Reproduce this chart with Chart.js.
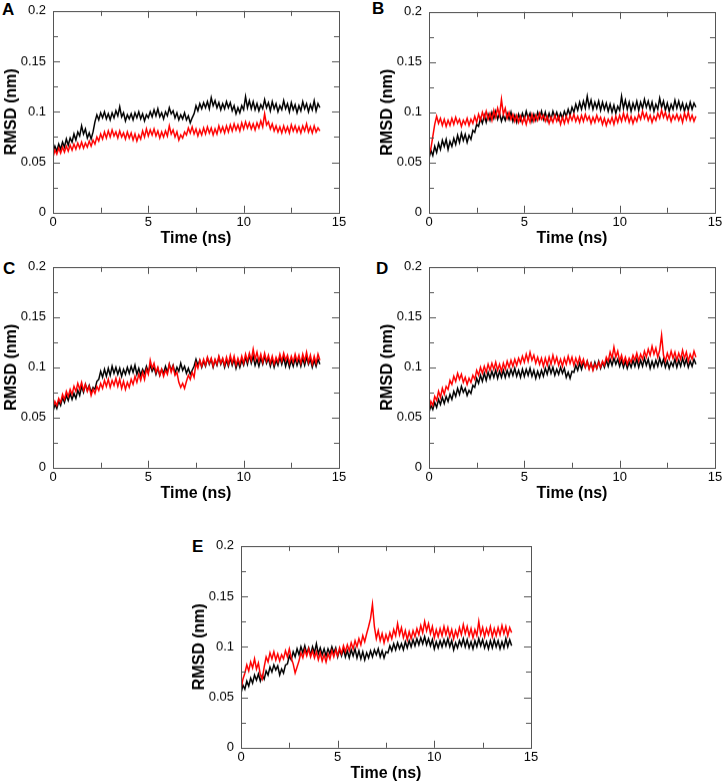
<!DOCTYPE html>
<html>
<head>
<meta charset="utf-8">
<script src="https://cdn.jsdelivr.net/npm/chart.js@4.4.1/dist/chart.umd.min.js"></script>
<style>
  html, body { margin: 0; padding: 0; background: #fff; overflow: hidden; }
  body { width: 724px; height: 782px; position: relative; }
  .panel { position: absolute; }
  .letter { position: absolute; font: bold 17px "Liberation Sans", Arial, sans-serif; line-height: 17px; color: #000; }
</style>
</head>
<body>
<div class="letter" style="left:2px;top:1px">A</div>
<div class="letter" style="left:372px;top:0px">B</div>
<div class="letter" style="left:3px;top:260px">C</div>
<div class="letter" style="left:376px;top:260px">D</div>
<div class="letter" style="left:192px;top:538px">E</div>
<div class="panel" id="boxA"><canvas id="chartA"></canvas></div>
<div class="panel" id="boxB"><canvas id="chartB"></canvas></div>
<div class="panel" id="boxC"><canvas id="chartC"></canvas></div>
<div class="panel" id="boxD"><canvas id="chartD"></canvas></div>
<div class="panel" id="boxE"><canvas id="chartE"></canvas></div>
<script>
// time axis (ns), one sample every 0.1 ns
const timeNs = [
  0,0.1,0.2,0.3,0.4,0.5,0.6,0.7,0.8,0.9,
  1,1.1,1.2,1.3,1.4,1.5,1.6,1.7,1.8,1.9,
  2,2.1,2.2,2.3,2.4,2.5,2.6,2.7,2.8,2.9,
  3,3.1,3.2,3.3,3.4,3.5,3.6,3.7,3.8,3.9,
  4,4.1,4.2,4.3,4.4,4.5,4.6,4.7,4.8,4.9,
  5,5.1,5.2,5.3,5.4,5.5,5.6,5.7,5.8,5.9,
  6,6.1,6.2,6.3,6.4,6.5,6.6,6.7,6.8,6.9,
  7,7.1,7.2,7.3,7.4,7.5,7.6,7.7,7.8,7.9,
  8,8.1,8.2,8.3,8.4,8.5,8.6,8.7,8.8,8.9,
  9,9.1,9.2,9.3,9.4,9.5,9.6,9.7,9.8,9.9,
  10,10.1,10.2,10.3,10.4,10.5,10.6,10.7,10.8,10.9,
  11,11.1,11.2,11.3,11.4,11.5,11.6,11.7,11.8,11.9,
  12,12.1,12.2,12.3,12.4,12.5,12.6,12.7,12.8,12.9,
  13,13.1,13.2,13.3,13.4,13.5,13.6,13.7,13.8,13.9,
  14
];

// RMSD (nm), black and red traces of each panel
const rmsdA_black = [
  0.060,0.066,0.061,0.068,0.063,0.070,0.065,0.073,0.067,0.074,
  0.070,0.078,0.072,0.080,0.076,0.086,0.078,0.083,0.074,0.079,
  0.073,0.080,0.090,0.097,0.092,0.099,0.094,0.100,0.093,0.098,
  0.092,0.099,0.094,0.101,0.096,0.105,0.095,0.099,0.091,0.097,
  0.093,0.098,0.092,0.099,0.094,0.100,0.093,0.098,0.091,0.097,
  0.094,0.100,0.095,0.102,0.096,0.103,0.095,0.099,0.093,0.100,
  0.096,0.104,0.098,0.101,0.094,0.099,0.092,0.097,0.093,0.099,
  0.092,0.096,0.089,0.094,0.098,0.106,0.101,0.108,0.103,0.109,
  0.104,0.110,0.103,0.114,0.106,0.111,0.104,0.109,0.102,0.108,
  0.103,0.110,0.104,0.109,0.101,0.106,0.098,0.104,0.099,0.106,
  0.102,0.115,0.104,0.111,0.103,0.110,0.102,0.108,0.101,0.107,
  0.103,0.112,0.104,0.109,0.101,0.110,0.103,0.108,0.100,0.106,
  0.102,0.111,0.103,0.108,0.100,0.109,0.102,0.107,0.099,0.106,
  0.101,0.110,0.103,0.108,0.100,0.107,0.102,0.111,0.101,0.108,
  0.104
];
const rmsdA_red = [
  0.055,0.062,0.058,0.064,0.059,0.065,0.060,0.066,0.061,0.067,
  0.062,0.068,0.063,0.069,0.064,0.070,0.064,0.069,0.065,0.071,
  0.066,0.072,0.068,0.075,0.071,0.078,0.073,0.080,0.074,0.081,
  0.075,0.082,0.076,0.080,0.074,0.081,0.075,0.079,0.073,0.080,
  0.074,0.079,0.072,0.078,0.071,0.077,0.073,0.081,0.075,0.083,
  0.076,0.082,0.077,0.083,0.076,0.081,0.074,0.080,0.075,0.081,
  0.076,0.086,0.078,0.082,0.075,0.080,0.072,0.077,0.074,0.080,
  0.077,0.084,0.079,0.085,0.078,0.083,0.076,0.082,0.077,0.084,
  0.078,0.085,0.079,0.084,0.077,0.083,0.078,0.086,0.080,0.085,
  0.079,0.086,0.080,0.087,0.081,0.088,0.082,0.087,0.081,0.089,
  0.083,0.090,0.084,0.089,0.083,0.088,0.082,0.089,0.084,0.091,
  0.085,0.098,0.087,0.090,0.083,0.088,0.081,0.086,0.080,0.085,
  0.079,0.086,0.080,0.085,0.079,0.087,0.081,0.086,0.080,0.085,
  0.079,0.086,0.081,0.088,0.080,0.085,0.079,0.086,0.080,0.084,
  0.081
];
const rmsdB_black = [
  0.054,0.062,0.057,0.066,0.060,0.069,0.063,0.072,0.066,0.073,
  0.063,0.071,0.066,0.074,0.068,0.077,0.070,0.079,0.072,0.078,
  0.070,0.077,0.073,0.082,0.080,0.088,0.086,0.094,0.089,0.097,
  0.090,0.098,0.092,0.100,0.094,0.101,0.093,0.099,0.091,0.097,
  0.092,0.099,0.093,0.100,0.091,0.097,0.090,0.098,0.092,0.099,
  0.093,0.101,0.094,0.099,0.091,0.098,0.092,0.100,0.094,0.101,
  0.093,0.100,0.092,0.099,0.093,0.101,0.095,0.100,0.093,0.099,
  0.094,0.101,0.096,0.103,0.097,0.105,0.100,0.108,0.102,0.110,
  0.103,0.111,0.104,0.116,0.105,0.112,0.103,0.110,0.104,0.111,
  0.102,0.110,0.103,0.109,0.101,0.108,0.100,0.107,0.099,0.106,
  0.102,0.116,0.104,0.112,0.103,0.110,0.101,0.109,0.103,0.111,
  0.102,0.110,0.104,0.113,0.105,0.111,0.103,0.110,0.101,0.108,
  0.103,0.114,0.105,0.111,0.102,0.109,0.101,0.108,0.103,0.112,
  0.104,0.111,0.103,0.109,0.101,0.108,0.102,0.110,0.103,0.109,
  0.105
];
const rmsdB_red = [
  0.058,0.064,0.076,0.088,0.096,0.089,0.094,0.087,0.093,0.086,
  0.092,0.087,0.094,0.088,0.095,0.089,0.093,0.086,0.092,0.088,
  0.094,0.087,0.093,0.089,0.096,0.090,0.098,0.092,0.100,0.094,
  0.101,0.093,0.099,0.092,0.102,0.095,0.104,0.097,0.113,0.098,
  0.104,0.094,0.100,0.093,0.098,0.091,0.097,0.090,0.096,0.089,
  0.095,0.088,0.096,0.090,0.098,0.091,0.097,0.092,0.099,0.093,
  0.097,0.091,0.096,0.089,0.095,0.090,0.097,0.091,0.096,0.088,
  0.095,0.089,0.096,0.090,0.097,0.092,0.098,0.091,0.096,0.090,
  0.097,0.091,0.098,0.092,0.096,0.089,0.095,0.090,0.097,0.091,
  0.095,0.088,0.094,0.087,0.093,0.089,0.095,0.088,0.096,0.090,
  0.097,0.091,0.099,0.092,0.098,0.090,0.096,0.089,0.095,0.091,
  0.098,0.093,0.101,0.094,0.099,0.092,0.097,0.090,0.096,0.092,
  0.099,0.094,0.102,0.095,0.100,0.093,0.098,0.091,0.097,0.093,
  0.098,0.092,0.097,0.090,0.099,0.093,0.100,0.092,0.097,0.091,
  0.096
];
const rmsdC_black = [
  0.056,0.063,0.059,0.066,0.062,0.070,0.065,0.072,0.067,0.074,
  0.068,0.074,0.069,0.077,0.072,0.081,0.075,0.083,0.077,0.082,
  0.075,0.080,0.078,0.086,0.088,0.096,0.090,0.098,0.091,0.099,
  0.092,0.101,0.094,0.100,0.093,0.099,0.091,0.098,0.093,0.100,
  0.094,0.101,0.095,0.102,0.093,0.099,0.092,0.098,0.094,0.101,
  0.095,0.102,0.096,0.100,0.093,0.099,0.092,0.098,0.094,0.101,
  0.095,0.103,0.097,0.102,0.094,0.100,0.096,0.104,0.097,0.101,
  0.094,0.099,0.093,0.097,0.101,0.108,0.102,0.107,0.100,0.106,
  0.101,0.109,0.103,0.108,0.100,0.107,0.102,0.110,0.103,0.108,
  0.100,0.107,0.101,0.109,0.102,0.108,0.099,0.106,0.100,0.107,
  0.102,0.110,0.103,0.112,0.104,0.111,0.102,0.108,0.101,0.109,
  0.103,0.111,0.104,0.109,0.101,0.108,0.100,0.107,0.102,0.110,
  0.103,0.110,0.101,0.108,0.100,0.107,0.101,0.109,0.102,0.108,
  0.101,0.109,0.102,0.110,0.103,0.108,0.100,0.107,0.101,0.108,
  0.103
];
const rmsdC_red = [
  0.060,0.066,0.062,0.069,0.065,0.073,0.068,0.076,0.071,0.078,
  0.073,0.081,0.076,0.084,0.078,0.085,0.077,0.083,0.076,0.081,
  0.072,0.078,0.074,0.081,0.077,0.084,0.079,0.087,0.081,0.088,
  0.080,0.087,0.082,0.089,0.081,0.088,0.079,0.086,0.078,0.085,
  0.080,0.088,0.083,0.091,0.085,0.093,0.087,0.095,0.088,0.098,
  0.093,0.107,0.099,0.104,0.095,0.100,0.092,0.098,0.091,0.097,
  0.093,0.103,0.095,0.101,0.092,0.095,0.085,0.080,0.084,0.079,
  0.086,0.092,0.088,0.095,0.090,0.104,0.099,0.107,0.101,0.108,
  0.102,0.110,0.104,0.109,0.101,0.108,0.103,0.111,0.104,0.109,
  0.102,0.110,0.103,0.112,0.104,0.111,0.102,0.109,0.103,0.111,
  0.104,0.113,0.106,0.114,0.107,0.118,0.108,0.115,0.106,0.113,
  0.105,0.114,0.106,0.112,0.104,0.111,0.103,0.110,0.105,0.113,
  0.106,0.114,0.107,0.112,0.104,0.111,0.105,0.113,0.106,0.112,
  0.104,0.113,0.106,0.115,0.105,0.112,0.103,0.111,0.104,0.113,
  0.107
];
const rmsdD_black = [
  0.055,0.062,0.058,0.065,0.060,0.068,0.063,0.070,0.064,0.071,
  0.066,0.073,0.068,0.076,0.071,0.079,0.073,0.081,0.075,0.079,
  0.072,0.077,0.074,0.082,0.080,0.089,0.084,0.092,0.086,0.094,
  0.087,0.095,0.089,0.096,0.090,0.097,0.089,0.096,0.090,0.097,
  0.090,0.097,0.091,0.098,0.092,0.099,0.091,0.097,0.090,0.098,
  0.091,0.098,0.092,0.099,0.091,0.097,0.089,0.096,0.090,0.097,
  0.091,0.099,0.093,0.101,0.094,0.100,0.092,0.098,0.093,0.100,
  0.094,0.099,0.090,0.095,0.089,0.096,0.095,0.102,0.097,0.104,
  0.098,0.105,0.100,0.106,0.099,0.104,0.098,0.105,0.099,0.106,
  0.099,0.105,0.100,0.107,0.101,0.108,0.102,0.109,0.103,0.108,
  0.101,0.107,0.100,0.106,0.099,0.105,0.100,0.107,0.101,0.108,
  0.100,0.107,0.101,0.109,0.102,0.108,0.099,0.106,0.100,0.107,
  0.101,0.109,0.102,0.108,0.100,0.106,0.099,0.105,0.101,0.108,
  0.100,0.107,0.101,0.109,0.102,0.108,0.100,0.106,0.101,0.108,
  0.103
];
const rmsdD_red = [
  0.058,0.066,0.062,0.071,0.067,0.076,0.070,0.079,0.073,0.081,
  0.078,0.087,0.083,0.091,0.086,0.094,0.088,0.093,0.085,0.090,
  0.083,0.089,0.085,0.092,0.088,0.097,0.092,0.100,0.094,0.101,
  0.095,0.103,0.097,0.104,0.098,0.105,0.097,0.103,0.096,0.104,
  0.098,0.106,0.100,0.107,0.101,0.108,0.102,0.109,0.104,0.111,
  0.105,0.113,0.106,0.115,0.107,0.112,0.104,0.110,0.103,0.109,
  0.101,0.109,0.102,0.110,0.103,0.112,0.104,0.110,0.102,0.108,
  0.101,0.109,0.103,0.111,0.104,0.110,0.102,0.109,0.103,0.110,
  0.103,0.108,0.100,0.106,0.098,0.104,0.097,0.103,0.099,0.105,
  0.100,0.106,0.102,0.110,0.106,0.115,0.109,0.120,0.110,0.116,
  0.106,0.112,0.104,0.110,0.103,0.109,0.105,0.112,0.107,0.114,
  0.106,0.113,0.108,0.116,0.110,0.118,0.112,0.121,0.113,0.119,
  0.110,0.117,0.132,0.112,0.106,0.114,0.108,0.116,0.109,0.115,
  0.107,0.114,0.108,0.117,0.109,0.115,0.106,0.113,0.108,0.116,
  0.110
];
const rmsdE_black = [
  0.054,0.062,0.058,0.066,0.061,0.069,0.064,0.072,0.067,0.073,
  0.066,0.072,0.068,0.076,0.072,0.080,0.075,0.082,0.077,0.081,
  0.072,0.078,0.074,0.082,0.083,0.091,0.087,0.095,0.090,0.098,
  0.092,0.100,0.094,0.101,0.093,0.099,0.092,0.100,0.094,0.103,
  0.093,0.099,0.092,0.098,0.091,0.098,0.093,0.100,0.094,0.099,
  0.090,0.097,0.091,0.098,0.090,0.096,0.089,0.097,0.091,0.098,
  0.089,0.096,0.088,0.095,0.087,0.094,0.089,0.096,0.090,0.097,
  0.092,0.098,0.090,0.096,0.089,0.095,0.094,0.101,0.096,0.103,
  0.097,0.104,0.098,0.103,0.097,0.105,0.099,0.106,0.100,0.107,
  0.101,0.108,0.102,0.109,0.103,0.110,0.102,0.108,0.101,0.107,
  0.098,0.105,0.099,0.106,0.100,0.107,0.101,0.108,0.100,0.106,
  0.097,0.104,0.099,0.106,0.101,0.108,0.100,0.107,0.099,0.105,
  0.098,0.106,0.100,0.108,0.101,0.107,0.099,0.105,0.098,0.106,
  0.099,0.107,0.100,0.106,0.098,0.105,0.099,0.108,0.100,0.107,
  0.101
];
const rmsdE_red = [
  0.058,0.068,0.074,0.082,0.076,0.085,0.079,0.088,0.078,0.084,
  0.072,0.068,0.080,0.090,0.085,0.094,0.088,0.095,0.087,0.093,
  0.086,0.092,0.088,0.096,0.090,0.098,0.089,0.083,0.074,0.080,
  0.086,0.094,0.089,0.097,0.091,0.098,0.090,0.096,0.089,0.095,
  0.087,0.094,0.086,0.092,0.085,0.093,0.088,0.096,0.090,0.097,
  0.091,0.099,0.093,0.101,0.095,0.102,0.096,0.104,0.098,0.106,
  0.100,0.108,0.102,0.111,0.105,0.113,0.120,0.128,0.142,0.120,
  0.108,0.116,0.106,0.113,0.104,0.112,0.106,0.114,0.108,0.117,
  0.111,0.123,0.112,0.119,0.109,0.116,0.107,0.115,0.108,0.116,
  0.110,0.118,0.112,0.121,0.114,0.125,0.116,0.123,0.113,0.120,
  0.109,0.117,0.110,0.118,0.111,0.120,0.112,0.119,0.110,0.117,
  0.108,0.116,0.110,0.119,0.112,0.122,0.113,0.120,0.111,0.118,
  0.109,0.117,0.111,0.125,0.112,0.119,0.110,0.118,0.112,0.120,
  0.110,0.118,0.111,0.119,0.112,0.121,0.113,0.120,0.111,0.119,
  0.114
];

// axis ticks
const xTickValues = [0, 5, 10, 15];
const xTickText = ['0', '5', '10', '15'];
const xMinorValues = [2.5, 7.5, 12.5];
const yTickValues = [0, 0.05, 0.1, 0.15, 0.2];
const yTickText = ['0', '0.05', '0.1', '0.15', '0.2'];
const yMinorValues = [0.025, 0.075, 0.125, 0.175];

const FONT = '"Liberation Sans", Arial, sans-serif';
const Y_AXIS_W = 53, X_AXIS_H = 39, PAD_TOP = 10, PAD_RIGHT = 8;

// frame + inward ticks on all four sides, like xmgrace output
const framePlugin = {
  id: 'frame',
  afterDatasetsDraw(chart) {
    const { ctx, chartArea: a, scales: { x, y } } = chart;
    ctx.save();
    ctx.strokeStyle = '#555';
    ctx.lineWidth = 1;
    ctx.beginPath();
    const tick = (vals, len) => {
      vals.forEach(v => {
        const px = Math.round(x.getPixelForValue(v)) + 0.5;
        if (px > a.left + 1 && px < a.right - 1) {
          ctx.moveTo(px, a.bottom); ctx.lineTo(px, a.bottom - len);
          ctx.moveTo(px, a.top); ctx.lineTo(px, a.top + len);
        }
      });
    };
    const ytick = (vals, len) => {
      vals.forEach(v => {
        const py = Math.round(y.getPixelForValue(v)) + 0.5;
        if (py > a.top + 1 && py < a.bottom - 1) {
          ctx.moveTo(a.left, py); ctx.lineTo(a.left + len, py);
          ctx.moveTo(a.right, py); ctx.lineTo(a.right - len, py);
        }
      });
    };
    tick(xTickValues, 7); tick(xMinorValues, 5);
    ytick(yTickValues, 7); ytick(yMinorValues, 5);
    ctx.stroke();
    ctx.strokeRect(Math.round(a.left) + 0.5, Math.round(a.top) + 0.5,
      Math.round(a.right - a.left), Math.round(a.bottom - a.top));
    ctx.restore();
  }
};

function makePanel(key, plotLeft, plotTop, plotRight, plotBottom, black, red) {
  const box = document.getElementById('box' + key);
  let w = plotRight - plotLeft + Y_AXIS_W + PAD_RIGHT;
  let h = plotBottom - plotTop + PAD_TOP + X_AXIS_H;
  box.style.left = (plotLeft - Y_AXIS_W) + 'px';
  box.style.top = (plotTop - PAD_TOP) + 'px';
  box.style.width = w + 'px';
  box.style.height = h + 'px';

  const chart = new Chart(document.getElementById('chart' + key), {
    type: 'line',
    data: {
      labels: timeNs,
      datasets: [
        { data: red, borderColor: '#ff0000', borderWidth: 1.5, pointRadius: 0, order: 1 },
        { data: black, borderColor: '#000000', borderWidth: 1.5, pointRadius: 0, order: 2 }
      ]
    },
    options: {
      responsive: true,
      maintainAspectRatio: false,
      animation: false,
      events: [],
      layout: { padding: { top: PAD_TOP, right: PAD_RIGHT, left: 0, bottom: 0 } },
      plugins: { legend: { display: false }, tooltip: { enabled: false } },
      scales: {
        x: {
          type: 'linear', min: 0, max: 15,
          afterBuildTicks: s => { s.ticks = xTickValues.map(v => ({ value: v })); },
          afterFit: s => { s.height = X_AXIS_H; },
          grid: { display: false, drawTicks: false },
          border: { display: false },
          ticks: {
            padding: 2, maxRotation: 0, color: '#000',
            font: { family: FONT, size: 13 },
            callback: (v, i) => xTickText[i]
          },
          title: {
            display: true, text: 'Time (ns)', color: '#000',
            font: { family: FONT, size: 16, weight: 'bold' }, padding: { top: 4, bottom: 4 }
          }
        },
        y: {
          type: 'linear', min: 0, max: 0.2,
          afterBuildTicks: s => { s.ticks = yTickValues.map(v => ({ value: v })); },
          afterFit: s => { s.width = Y_AXIS_W; },
          grid: { display: false, drawTicks: false },
          border: { display: false },
          ticks: {
            padding: 7, color: '#000',
            font: { family: FONT, size: 13 },
            callback: (v, i) => yTickText[i]
          },
          title: {
            display: true, text: 'RMSD (nm)', color: '#000',
            font: { family: FONT, size: 16, weight: 'bold' }, padding: { top: 2, bottom: 2 }
          }
        }
      }
    },
    plugins: [framePlugin]
  });

  // shift/resize the canvas box so the plot area lands where the reference has it
  const a = chart.chartArea;
  w += (plotRight - plotLeft) - (a.right - a.left);
  h += (plotBottom - plotTop) - (a.bottom - a.top);
  box.style.left = (plotLeft - a.left) + 'px';
  box.style.top = (plotTop - a.top) + 'px';
  box.style.width = w + 'px';
  box.style.height = h + 'px';
  chart.resize();
}

makePanel('A', 53, 11, 339, 212, rmsdA_black, rmsdA_red);
makePanel('B', 429, 12, 715, 212, rmsdB_black, rmsdB_red);
makePanel('C', 53, 267, 339, 467, rmsdC_black, rmsdC_red);
makePanel('D', 429, 267, 715, 467, rmsdD_black, rmsdD_red);
makePanel('E', 241, 546, 531, 747, rmsdE_black, rmsdE_red);
</script>
</body>
</html>
